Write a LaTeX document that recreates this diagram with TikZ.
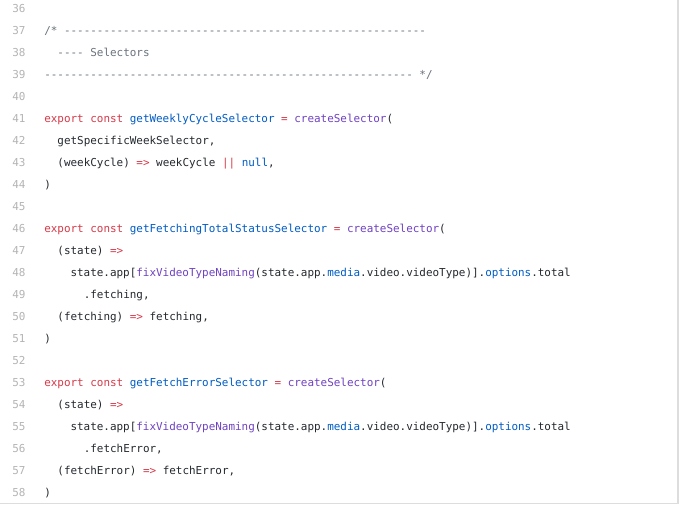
\documentclass[tikz,border=0pt]{standalone}
\usepackage{fontspec}
\setmonofont{DejaVu Sans Mono}
\frenchspacing

\definecolor{codetext}{HTML}{24292E}
\definecolor{lnumgray}{HTML}{B4B4B4}
\definecolor{cmtgray}{HTML}{6A737D}
\definecolor{kwdred}{HTML}{D73A49}
\definecolor{entblue}{HTML}{005CC5}
\definecolor{fnpurple}{HTML}{6F42C1}
\definecolor{framegray}{HTML}{DDDDDD}

\newcommand{\kwd}[1]{\textcolor{kwdred}{#1}}
\newcommand{\ename}[1]{\textcolor{entblue}{#1}}
\newcommand{\fname}[1]{\textcolor{fnpurple}{#1}}
\newcommand{\cmt}[1]{\textcolor{cmtgray}{#1}}

\tikzset{
  lnum/.style={anchor=base west, inner sep=0pt, text=lnumgray, font=\ttfamily\fontsize{8.2}{10}\selectfont},
  codeline/.style={anchor=base west, inner sep=0pt, text=codetext, font=\ttfamily\fontsize{8.2}{10}\selectfont}
}

\begin{document}
\begin{tikzpicture}[x=0.75pt, y=-0.75pt]
\fill[white] (0,0) rectangle (679,505);
\useasboundingbox (0,0) rectangle (679,505);
\draw[framegray, line width=1.1pt] (0,503.5) -- (678,503.5) -- (678,0);

% line numbers
\foreach \n [count=\i from 0] in {36,...,58}
  \node[lnum] (n\n) at (12, 13+22*\i) {\n};

% comment block
\node[codeline] (l37) at (44, 35) {\cmt{/* -------------------------------------------------------}};
\node[codeline] (l38) at (57.2, 57) {\cmt{---- Selectors}};
\node[codeline] (l39) at (44, 79) {\cmt{-------------------------------------------------------- */}};

% first selector
\node[codeline] (l41) at (44, 123) {\kwd{export const} \ename{getWeeklyCycleSelector} \kwd{=} \fname{createSelector}(};
\node[codeline] (l42) at (57.2, 145) {getSpecificWeekSelector,};
\node[codeline] (l43) at (57.2, 167) {(weekCycle) \kwd{=>} weekCycle \kwd{||} \ename{null},};
\node[codeline] (l44) at (44, 189) {)};

% second selector
\node[codeline] (l46) at (44, 233) {\kwd{export const} \ename{getFetchingTotalStatusSelector} \kwd{=} \fname{createSelector}(};
\node[codeline] (l47) at (57.2, 255) {(state) \kwd{=>}};
\node[codeline] (l48) at (70.3, 277) {state.app[\fname{fixVideoTypeNaming}(state.app.\ename{media}.video.videoType)].\ename{options}.total};
\node[codeline] (l49) at (83.5, 299) {.fetching,};
\node[codeline] (l50) at (57.2, 321) {(fetching) \kwd{=>} fetching,};
\node[codeline] (l51) at (44, 343) {)};

% third selector
\node[codeline] (l53) at (44, 387) {\kwd{export const} \ename{getFetchErrorSelector} \kwd{=} \fname{createSelector}(};
\node[codeline] (l54) at (57.2, 409) {(state) \kwd{=>}};
\node[codeline] (l55) at (70.3, 431) {state.app[\fname{fixVideoTypeNaming}(state.app.\ename{media}.video.videoType)].\ename{options}.total};
\node[codeline] (l56) at (83.5, 453) {.fetchError,};
\node[codeline] (l57) at (57.2, 475) {(fetchError) \kwd{=>} fetchError,};
\node[codeline] (l58) at (44, 497) {)};
\end{tikzpicture}
\end{document}
